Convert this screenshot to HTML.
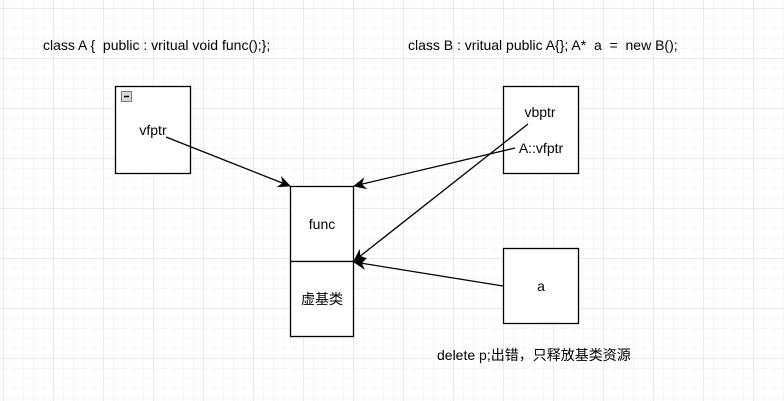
<!DOCTYPE html>
<html><head><meta charset="utf-8"><style>
html,body{margin:0;padding:0;background:#fff}
body{width:784px;height:401px;overflow:hidden;position:relative;font-family:"Liberation Sans","Noto Sans CJK SC",sans-serif}
svg{position:absolute;left:0;top:0}
text{white-space:pre}
</style></head><body>
<svg width="784" height="401" xmlns="http://www.w3.org/2000/svg" xml:space="preserve">
<defs>
<pattern id="mi" x="3" y="8" width="10" height="10" patternUnits="userSpaceOnUse"><path d="M0 0H10M0 0V10" stroke="#ececec" stroke-width="1" fill="none"/></pattern>
<pattern id="ma" x="3" y="8" width="50" height="50" patternUnits="userSpaceOnUse"><path d="M0 0H50M0 0V50" stroke="#d6d6d6" stroke-width="1" fill="none"/></pattern>
<marker id="ar" markerWidth="14" markerHeight="12" refX="12" refY="6" orient="auto" markerUnits="userSpaceOnUse"><path d="M0 0L13 6L0 12L4 6Z" fill="#000"/></marker>
</defs>
<rect width="784" height="401" fill="url(#mi)"/>
<rect width="784" height="401" fill="url(#ma)"/>
<g font-size="14" fill="#000">
<text x="43" y="50">class A {  public : vritual void func();};</text>
<text x="408" y="50">class B : vritual public A{}; A*  a  =  new B();</text>
<text x="437" y="360">delete p;出错，只释放基类资源</text>
</g>
<g fill="#fff" stroke="#000" stroke-width="1.3">
<rect x="115.5" y="86.5" width="75" height="87"/>
<rect x="290.5" y="186.5" width="63" height="75"/>
<rect x="290.5" y="261.5" width="63" height="75"/>
<rect x="503.5" y="86.5" width="75" height="87"/>
<rect x="503.5" y="248.5" width="75" height="75"/>
</g>
<rect x="121.5" y="91.5" width="10" height="10" fill="#d8d8e0" stroke="#777"/>
<line x1="124" y1="96.5" x2="129" y2="96.5" stroke="#000" stroke-width="1.5"/>
<g font-size="14" text-anchor="middle" fill="#000">
<text x="153" y="135">vfptr</text>
<text x="322" y="229">func</text>
<text x="322" y="304">虚基类</text>
<text x="540" y="117">vbptr</text>
<text x="541" y="153">A::vfptr</text>
<text x="541" y="291">a</text>
</g>
<g stroke="#000" stroke-width="1.3" fill="none" marker-end="url(#ar)">
<line x1="166" y1="137" x2="290" y2="186"/>
<line x1="515" y1="148" x2="354" y2="186"/>
<line x1="528" y1="124" x2="354" y2="261"/>
<line x1="503" y1="286" x2="354" y2="262"/>
</g>
</svg>
</body></html>
